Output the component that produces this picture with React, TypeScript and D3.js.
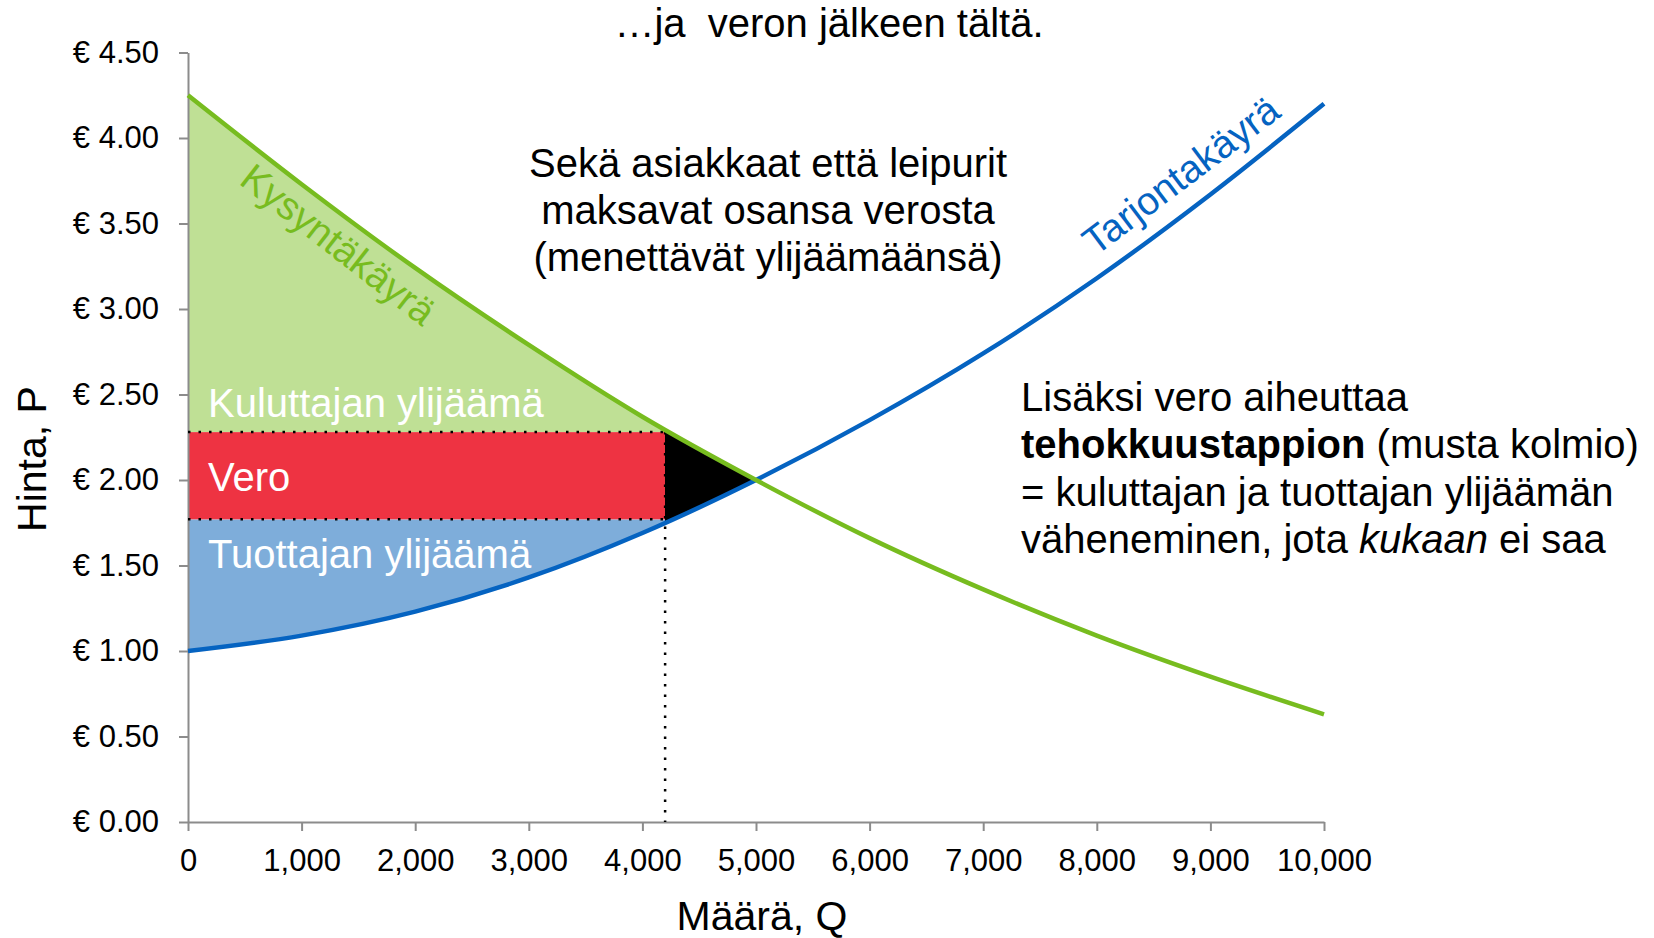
import React, { useEffect, useRef } from 'react';
import * as d3 from 'd3';

// Määrä (Q) ja hinnat kysyntä- ja tarjontakäyrällä
const quantity = [0, 1000, 2000, 3000, 4000, 5000, 6000, 7000, 8000, 9000, 10000];
const demandPrice = [4.25, 3.73, 3.24, 2.79, 2.37, 2.0, 1.66, 1.36, 1.09, 0.85, 0.63];
const supplyPrice = [1.0, 1.09, 1.23, 1.43, 1.69, 2.0, 2.35, 2.74, 3.18, 3.67, 4.2];

// Vero
const taxQuantity = 4200;
const consumerPrice = 2.28;
const producerPrice = 1.77;
const equilibriumQuantity = 5000;

const priceTicks = [0, 0.5, 1, 1.5, 2, 2.5, 3, 3.5, 4, 4.5];
const quantityTicks = [0, 1000, 2000, 3000, 4000, 5000, 6000, 7000, 8000, 9000, 10000];

const W = 1654;
const H = 938;
const FONT = '"Liberation Sans", Arial, Helvetica, sans-serif';

const GREEN = '#77bc1f';
const GREEN_FILL = '#bfe095';
const BLUE = '#0563c1';
const BLUE_FILL = '#7eadda';
const RED = '#ee3342';

const x = d3.scaleLinear().domain([0, 10000]).range([188, 1324]);
const y = d3.scaleLinear().domain([0, 4.5]).range([822, 52.5]);

type Pt = { q: number; d: number; s: number };
const pts: Pt[] = quantity.map((q, i) => ({ q, d: demandPrice[i], s: supplyPrice[i] }));

const curve = d3.curveMonotoneX;

const App = () => {
  const xAxisRef = useRef<SVGGElement>(null);
  const yAxisRef = useRef<SVGGElement>(null);

  useEffect(() => {
    const gx = d3.select(xAxisRef.current!);
    gx.selectAll('*').remove();
    gx.call(
      d3.axisBottom(x)
        .tickValues(quantityTicks)
        .tickFormat((d) => (d === 0 ? '0' : d3.format(',')(d as number)))
        .tickSize(9)
        .tickSizeOuter(0)
        .tickPadding(18)
    );
    const gy = d3.select(yAxisRef.current!);
    gy.selectAll('*').remove();
    gy.call(
      d3.axisLeft(y)
        .tickValues(priceTicks)
        .tickFormat((d) => `€ ${(d as number).toFixed(2)}`)
        .tickSize(9)
        .tickSizeOuter(0)
        .tickPadding(20)
    );
    [gx, gy].forEach((g) => {
      g.select('.domain').attr('stroke', '#8c8c8c').attr('stroke-width', 2);
      g.selectAll('.tick line').attr('stroke', '#8c8c8c').attr('stroke-width', 2);
      g.selectAll('.tick text')
        .attr('fill', '#000')
        .style('font-family', FONT)
        .style('font-size', '31px');
    });
  }, []);

  const consumerArea = d3.area<Pt>()
    .x((p) => x(p.q))
    .y0(y(consumerPrice))
    .y1((p) => y(p.d))
    .curve(curve)(pts);

  const producerArea = d3.area<Pt>()
    .x((p) => x(p.q))
    .y0((p) => y(p.s))
    .y1(y(producerPrice))
    .curve(curve)(pts);

  const lossArea = d3.area<Pt>()
    .x((p) => x(p.q))
    .y0((p) => y(p.s))
    .y1((p) => y(p.d))
    .curve(curve)(pts);

  const demandLine = d3.line<Pt>().x((p) => x(p.q)).y((p) => y(p.d)).curve(curve)(pts);
  const supplyLine = d3.line<Pt>().x((p) => x(p.q)).y((p) => y(p.s)).curve(curve)(pts);

  const xt = x(taxQuantity);
  const x0 = x(0);

  const textStyle = { fontFamily: FONT };

  return (
    <svg
      width={W}
      height={H}
      viewBox={`0 0 ${W} ${H}`}
      style={{ position: 'absolute', left: 0, top: 0, background: '#fff' }}
    >
      <defs>
        <clipPath id="clipConsumer">
          <rect x={x0} y={0} width={xt - x0} height={y(consumerPrice)} />
        </clipPath>
        <clipPath id="clipProducer">
          <rect x={x0} y={y(producerPrice)} width={xt - x0} height={y(0) - y(producerPrice)} />
        </clipPath>
        <clipPath id="clipLoss">
          <rect x={xt} y={0} width={x(equilibriumQuantity) - xt} height={H} />
        </clipPath>
      </defs>

      <path d={consumerArea ?? ''} fill={GREEN_FILL} clipPath="url(#clipConsumer)" />
      <path d={producerArea ?? ''} fill={BLUE_FILL} clipPath="url(#clipProducer)" />
      <rect
        x={x0}
        y={y(consumerPrice)}
        width={xt - x0}
        height={y(producerPrice) - y(consumerPrice)}
        fill={RED}
      />
      <path d={lossArea ?? ''} fill="#000" clipPath="url(#clipLoss)" />

      <g ref={xAxisRef} transform={`translate(0,${y(0)})`} />
      <g ref={yAxisRef} transform={`translate(${x0},0)`} />

      <g stroke="#000" strokeWidth={2.5} strokeDasharray="2.5 8" fill="none">
        <line x1={x0} x2={xt} y1={y(consumerPrice)} y2={y(consumerPrice)} />
        <line x1={x0} x2={xt} y1={y(producerPrice)} y2={y(producerPrice)} />
        <line x1={xt} x2={xt} y1={y(consumerPrice)} y2={y(0)} />
      </g>

      <path d={supplyLine ?? ''} fill="none" stroke={BLUE} strokeWidth={4.5} />
      <path d={demandLine ?? ''} fill="none" stroke={GREEN} strokeWidth={4.5} />

      <g style={textStyle} fill="#fff" fontSize={40}>
        <text x={208} y={417}>Kuluttajan ylijäämä</text>
        <text x={208} y={491}>Vero</text>
        <text x={208} y={568}>Tuottajan ylijäämä</text>
      </g>

      <text
        style={textStyle}
        fontSize={39}
        fill={GREEN}
        textAnchor="middle"
        transform="translate(330,255) rotate(38)"
      >
        Kysyntäkäyrä
      </text>
      <text
        style={textStyle}
        fontSize={39}
        fill={BLUE}
        textAnchor="middle"
        transform="translate(1189,186) rotate(-37)"
      >
        Tarjontakäyrä
      </text>

      <g style={textStyle} fill="#000" fontSize={40}>
        <text x={829} y={37} textAnchor="middle" xmlSpace="preserve">
          …ja  veron jälkeen tältä.
        </text>
        <text x={768} y={177} textAnchor="middle">Sekä asiakkaat että leipurit</text>
        <text x={768} y={224} textAnchor="middle">maksavat osansa verosta</text>
        <text x={768} y={271} textAnchor="middle">(menettävät ylijäämäänsä)</text>

        <text x={1021} y={411}>Lisäksi vero aiheuttaa</text>
        <text x={1021} y={458}>
          <tspan fontWeight="bold">tehokkuustappion</tspan> (musta kolmio)
        </text>
        <text x={1021} y={506}>= kuluttajan ja tuottajan ylijäämän</text>
        <text x={1021} y={553}>
          väheneminen, jota <tspan fontStyle="italic">kukaan</tspan> ei saa
        </text>
      </g>

      <g style={textStyle} fill="#000" fontSize={41}>
        <text x={762} y={930} textAnchor="middle">Määrä, Q</text>
        <text transform="translate(46,459) rotate(-90)" textAnchor="middle">Hinta, P</text>
      </g>
    </svg>
  );
};

export default App;
